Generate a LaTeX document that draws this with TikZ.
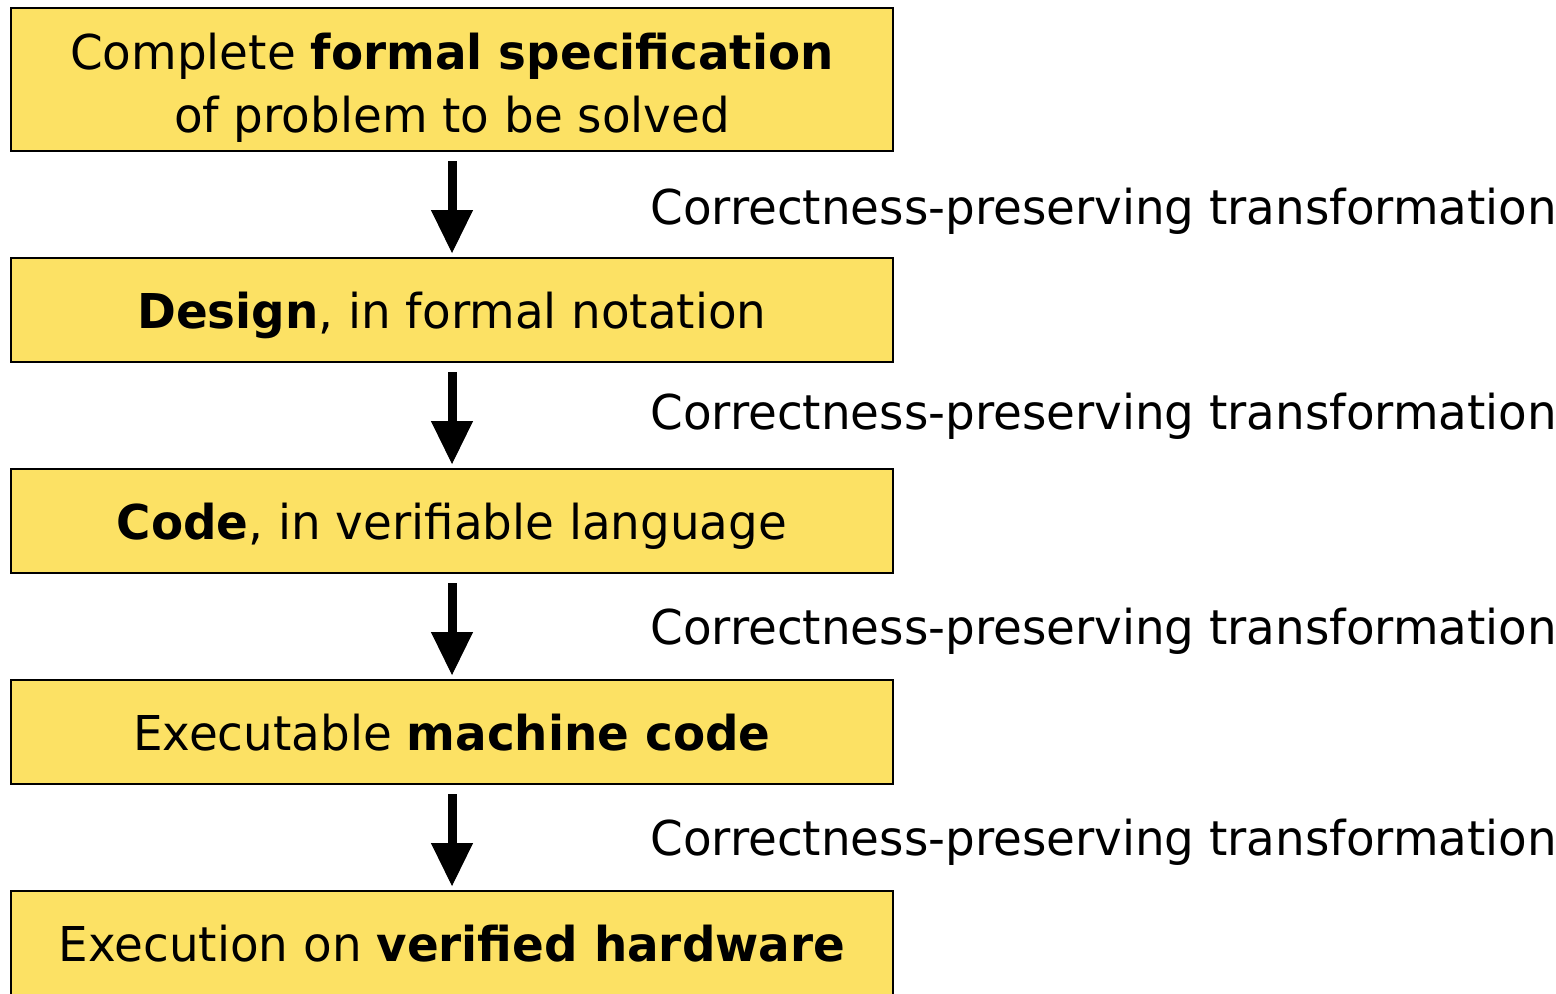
\documentclass[tikz,border=0pt]{standalone}
\usepackage{fontspec}
\setmainfont{DejaVu Sans}[FakeStretch=0.975]
\usepackage{xcolor}
\usepackage{tikz}
\usetikzlibrary{positioning,arrows.meta}

\definecolor{boxyellow}{RGB}{252,225,100}

\begin{document}
\begin{tikzpicture}[x=0.5pt, y=-0.5pt, node distance = 52.5pt]
            \tikzstyle{stage} = [draw=black, fill=boxyellow, line width=1pt, minimum width=441pt, minimum height=52pt, align=center, inner sep=0pt, text height=18pt, text depth=0pt, font=\fontsize{24}{31.5}\selectfont]
            \tikzstyle{note} = [anchor=base west, inner sep=0pt, font=\fontsize{24}{31.5}\selectfont]
            \tikzstyle{flow} = [-{Triangle[width=21pt, length=21.5pt, line width=0.5pt]}, line width=4.5pt, shorten <= 4.5pt, shorten >= 2pt]

            \useasboundingbox (0,0) rectangle (1556,993);

            \node [stage, minimum height=71.5pt, text height=, text depth=] (B0) at (452,79.5) {\rule{0pt}{26.5pt}Complete \textbf{formal specification}\\of problem to be solved};
            \node [stage, below = of B0] (B1) {\textbf{Design}, in formal notation};
            \node [stage, below = of B1] (B2) {\textbf{Code}, in verifiable language};
            \node [stage, below = of B2] (B3) {Executable \textbf{machine code}};
            \node [stage, below = of B3] (B4) {Execution on \textbf{verified hardware}};

            \node [note] (T1) at (650,224) {Correctness-preserving transformation};
            \node [note] (T2) at (650,429) {Correctness-preserving transformation};
            \node [note] (T3) at (650,644) {Correctness-preserving transformation};
            \node [note] (T4) at (650,855) {Correctness-preserving transformation};

            \draw [flow] (B0) to (B1);
            \draw [flow] (B1) to (B2);
            \draw [flow] (B2) to (B3);
            \draw [flow] (B3) to (B4);
        \end{tikzpicture}
\end{document}
